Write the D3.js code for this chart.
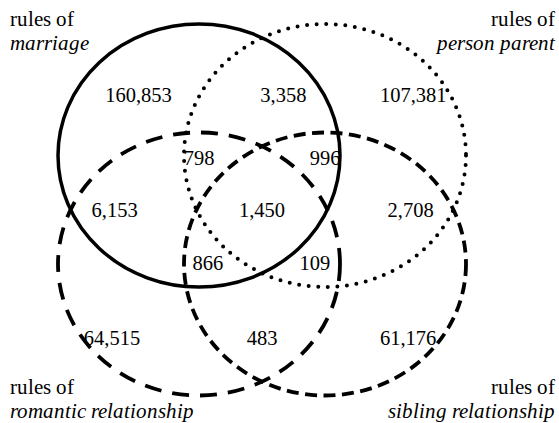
<!DOCTYPE html>
<html>
<head>
<meta charset="utf-8">
<script src="https://cdn.jsdelivr.net/npm/d3@7"></script>
<style>
  @font-face { font-family: "ChartSerif"; src: local("Liberation Serif"), local("LiberationSerif"); font-style: normal; }
  @font-face { font-family: "ChartSerif"; src: local("Liberation Serif Italic"), local("LiberationSerif-Italic"); font-style: italic; }
</style>
</head>
<body style="margin:0">
<script>
// dimensions of the page
const width = 559, height = 423;

// the four rule sets: grid position (col,row) and stroke style
const setNames = ["marriage", "person parent", "romantic relationship", "sibling relationship"];
const setCol = [0, 1, 0, 1];
const setRow = [0, 0, 1, 1];
const setDash = [null, "0 9.6", "17 11", "12 6.5"];

// counts of each region, and where the label sits (in set-grid units)
const regionCounts = ["160,853", "3,358", "107,381", "798", "996", "6,153", "1,450", "2,708",
                      "866", "109", "64,515", "483", "61,176"];
const regionCol = [-0.48, 0.67, 1.7, 0, 1, -0.67, 0.5, 1.68, 0.07, 0.92, -0.69, 0.5, 1.66];
const regionRow = [-0.56, -0.56, -0.56, 0.02, 0.02, 0.5, 0.5, 0.5, 0.99, 0.99, 1.68, 1.68, 1.68];

// scales from grid units to pixels
const x = d3.scaleLinear().domain([0, 1]).range([199, 325]);
const y = d3.scaleLinear().domain([0, 1]).range([155.5, 264]);
const rx = 141, ry = 131.5;

const svg = d3.select("body").append("svg")
    .attr("width", width)
    .attr("height", height);

// ellipses
svg.selectAll("ellipse")
    .data(setNames)
  .enter().append("ellipse")
    .attr("cx", (d, i) => x(setCol[i]))
    .attr("cy", (d, i) => y(setRow[i]))
    .attr("rx", rx)
    .attr("ry", ry)
    .attr("fill", "none")
    .attr("stroke", "#000")
    .attr("stroke-width", (d, i) => i === 0 ? 3.5 : (i === 1 ? 4 : 3.8))
    .attr("stroke-linecap", (d, i) => i === 1 ? "round" : "butt")
    .attr("stroke-dasharray", (d, i) => setDash[i]);

// region counts
svg.selectAll(".count")
    .data(regionCounts)
  .enter().append("text")
    .attr("class", "count")
    .attr("x", (d, i) => x(regionCol[i]))
    .attr("y", (d, i) => y(regionRow[i]) + 7)
    .attr("text-anchor", "middle")
    .style("font-family", "serif")
    .style("font-size", "20.5px")
    .text(d => d);

// corner labels: two lines each
const labelX = [10, 555, 10, 555];
const labelY = [26, 26, 394, 394];
svg.selectAll(".label1")
    .data(setNames)
  .enter().append("text")
    .attr("class", "label1")
    .attr("x", (d, i) => labelX[i])
    .attr("y", (d, i) => labelY[i])
    .attr("text-anchor", (d, i) => setCol[i] === 0 ? "start" : "end")
    .style("font-family", "ChartSerif, serif")
    .style("font-size", "21px")
    .text("rules of");

svg.selectAll(".label2")
    .data(setNames)
  .enter().append("text")
    .attr("class", "label2")
    .attr("x", (d, i) => labelX[i])
    .attr("y", (d, i) => labelY[i] + 23.5)
    .attr("text-anchor", (d, i) => setCol[i] === 0 ? "start" : "end")
    .style("font-family", "ChartSerif, serif")
    .style("font-style", "italic")
    .style("font-size", "21px")
    .text(d => d);
</script>
</body>
</html>
